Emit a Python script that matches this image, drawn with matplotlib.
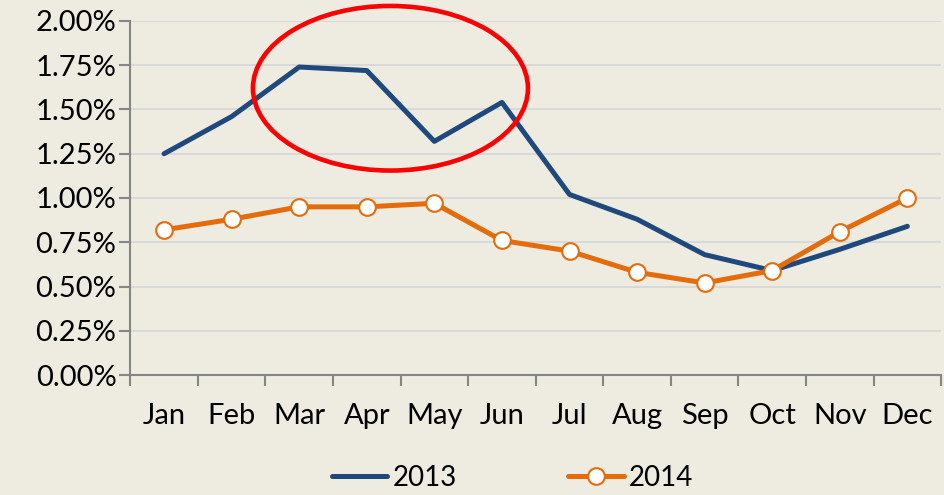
import numpy as np
import matplotlib.pyplot as plt
from matplotlib.patches import Ellipse
from matplotlib.ticker import FuncFormatter

months = ["Jan", "Feb", "Mar", "Apr", "May", "Jun",
          "Jul", "Aug", "Sep", "Oct", "Nov", "Dec"]
rate_2013 = [1.25, 1.46, 1.74, 1.72, 1.32, 1.54, 1.02, 0.88, 0.68, 0.59, 0.71, 0.84]
rate_2014 = [0.82, 0.88, 0.95, 0.95, 0.97, 0.76, 0.70, 0.58, 0.52, 0.59, 0.81, 1.00]
y_ticks = [0, 0.25, 0.5, 0.75, 1.0, 1.25, 1.5, 1.75, 2.0]

bg = "#EEEBE0"
plt.rcParams["font.family"] = ["Lato", "DejaVu Sans"]

fig = plt.figure(figsize=(9.44, 4.95), dpi=100, facecolor=bg)
ax = fig.add_axes([0.138, 0.2424, 0.859, 0.7152], facecolor=bg)

x = np.arange(len(months))
ax.plot(x, rate_2013, color="#1F497D", lw=3.6, solid_capstyle="round",
        solid_joinstyle="round", label="2013", zorder=3)
ax.plot(x, rate_2014, color="#E46C0A", lw=3.6, marker="o", ms=12,
        mfc="white", mec="#E46C0A", mew=1.5, solid_capstyle="round",
        solid_joinstyle="round", label="2014", zorder=4)

# red highlight ellipse
ell = Ellipse((3.35, 1.62), 4.07, 0.93, fill=False, ec="#FF0000", lw=3.3,
              clip_on=False, zorder=5)
ax.add_patch(ell)

ax.set_xlim(-0.5, 11.5)
ax.set_ylim(0, 2.0)
ax.set_yticks(y_ticks)
ax.yaxis.set_major_formatter(FuncFormatter(lambda v, p: f"{v:.2f}%"))
ax.grid(axis="y", color="#D9D9D9", lw=1.5)
ax.set_axisbelow(True)

ax.set_xticks(np.arange(-0.5, 12, 1))
ax.set_xticklabels([])
ax.set_xticks(x, minor=True)
ax.set_xticklabels(months, minor=True)
ax.tick_params(axis="x", which="minor", length=0, pad=20, labelsize=21)
ax.tick_params(axis="x", which="major", length=8, color="#868686", width=1.5)
ax.tick_params(axis="y", length=8, color="#868686", width=1.5, labelsize=21, pad=2)

for s in ["top", "right"]:
    ax.spines[s].set_visible(False)
for s in ["left", "bottom"]:
    ax.spines[s].set_color("#868686")
    ax.spines[s].set_linewidth(1.5)

fig.legend(*ax.get_legend_handles_labels(), loc="center",
           bbox_to_anchor=(0.543, 0.035), ncol=2, frameon=False,
           fontsize=20, handlelength=2.0, columnspacing=4.0, handletextpad=0.2,
           borderpad=0)

fig.savefig("out.png", dpi=100, facecolor=bg)
